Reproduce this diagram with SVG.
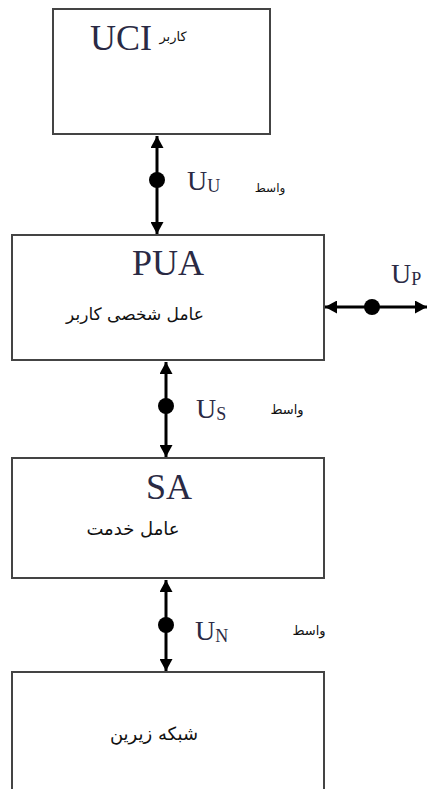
<svg xmlns="http://www.w3.org/2000/svg" width="428" height="789" viewBox="0 0 428 789">
<style>
.box{fill:#fff;stroke:#444;stroke-width:2}
.title{font-family:"Liberation Serif",serif;font-size:36px;fill:#2a2a44;text-anchor:middle}
.u{font-family:"Liberation Serif",serif;font-size:28px;fill:#2a2a44}
.sub{font-size:18px}
.fa{font-family:"DejaVu Sans",sans-serif;fill:#111;direction:rtl;text-anchor:middle}
.line{stroke:#000;stroke-width:3;fill:none}
.dot{fill:#000}
</style>
<defs>
<marker id="ah" viewBox="0 0 12 13" refX="12" refY="6.5" markerWidth="12" markerHeight="13" markerUnits="userSpaceOnUse" orient="auto-start-reverse">
<path d="M0,0 L12,6.5 L0,13 Z" fill="#000"/>
</marker>
</defs>
<g id="uci">
<rect class="box" x="53" y="9" width="217" height="125"/>
<text class="title" x="121" y="50">UCI</text>
<text class="fa" x="173" y="41" font-size="13">کاربر</text>
</g>
<g id="pua">
<rect class="box" x="12" y="235" width="312" height="125"/>
<text class="title" x="168" y="275">PUA</text>
<text class="fa" x="135" y="320" font-size="17">عامل شخصی کاربر</text>
</g>
<g id="sa">
<rect class="box" x="12" y="458" width="312" height="120"/>
<text class="title" x="169" y="499">SA</text>
<text class="fa" x="133" y="535" font-size="18">عامل خدمت</text>
</g>
<g id="network">
<rect class="box" x="12" y="672" width="312" height="130"/>
<text class="fa" x="154" y="740" font-size="18">شبکه زیرین</text>
</g>
<g id="connectors">
<line class="line" x1="157" y1="136" x2="157" y2="234" marker-start="url(#ah)" marker-end="url(#ah)"/>
<circle class="dot" cx="157" cy="180" r="8"/>
<text class="u" x="187" y="190">U<tspan class="sub" dy="2">U</tspan></text>
<text class="fa" x="270" y="192" font-size="12">واسط</text>

<line class="line" x1="325" y1="307" x2="427" y2="307" marker-start="url(#ah)" marker-end="url(#ah)"/>
<circle class="dot" cx="372" cy="307" r="8"/>
<text class="u" x="391" y="283">U<tspan class="sub" dy="2">P</tspan></text>

<line class="line" x1="166" y1="362" x2="166" y2="457" marker-start="url(#ah)" marker-end="url(#ah)"/>
<circle class="dot" cx="166" cy="406" r="8"/>
<text class="u" x="196" y="418">U<tspan class="sub" dy="2">S</tspan></text>
<text class="fa" x="287" y="414" font-size="13">واسط</text>

<line class="line" x1="166" y1="580" x2="166" y2="671" marker-start="url(#ah)" marker-end="url(#ah)"/>
<circle class="dot" cx="166" cy="625" r="8"/>
<text class="u" x="195" y="640">U<tspan class="sub" dy="2">N</tspan></text>
<text class="fa" x="309" y="635" font-size="13">واسط</text>
</g>
</svg>
